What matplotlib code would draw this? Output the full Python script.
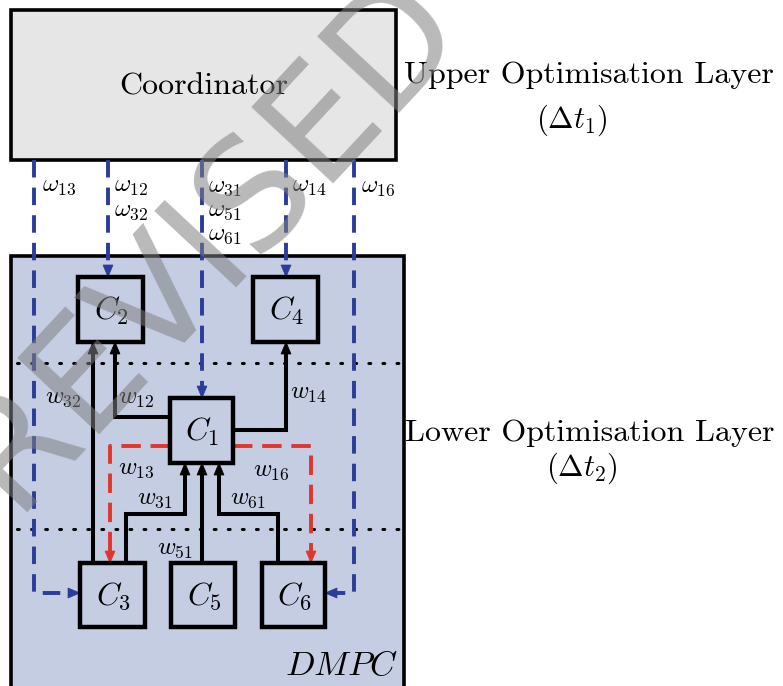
import matplotlib
matplotlib.use("Agg")
import matplotlib.pyplot as plt
from matplotlib.patches import Rectangle, Polygon
import numpy as np

plt.rcParams['mathtext.fontset'] = 'cm'

# ---- diagram content (pixel layout of the reference) ----
coord_box = (11, 10, 396, 160)           # x0, y0, x1, y1
dmpc_box = (11, 256, 404, 700)
# controller boxes: name -> (x0, y0, x1, y1)
ctrl_names = ['C_1', 'C_2', 'C_3', 'C_4', 'C_5', 'C_6']
ctrl_boxes = [(170, 398, 233, 463), (78, 277, 143, 342), (80, 563, 145, 627),
              (253, 277, 318, 342), (171, 563, 235, 627), (262, 563, 325, 627)]

# coordinator -> controller signals (blue dashed)
blue_paths = [
    [(34, 160), (34, 593), (80, 593)],
    [(108, 160), (108, 277)],
    [(202, 160), (202, 398)],
    [(286, 160), (286, 277)],
    [(354, 160), (354, 593), (325, 593)],
]
blue_labels = [(r'$\omega_{13}$', 42, 185), (r'$\omega_{12}$', 114, 186),
               (r'$\omega_{32}$', 114, 210), (r'$\omega_{31}$', 208, 186),
               (r'$\omega_{51}$', 208, 210), (r'$\omega_{61}$', 208, 234),
               (r'$\omega_{14}$', 292, 186), (r'$\omega_{16}$', 361, 186)]

# controller -> controller signals (black solid)
black_paths = [
    [(93, 563), (93, 342)],
    [(170, 417), (115, 417), (115, 342)],
    [(233, 430), (286, 430), (286, 342)],
    [(126, 563), (126, 514), (185, 514), (185, 463)],
    [(202, 563), (202, 463)],
    [(278, 563), (278, 514), (219, 514), (219, 463)],
]
# red dashed signals
red_paths = [
    [(170, 446), (110, 446), (110, 563)],
    [(233, 446), (311, 446), (311, 563)],
]
w_labels = [(r'$w_{32}$', 45, 397), (r'$w_{12}$', 118, 398), (r'$w_{14}$', 290, 393),
            (r'$w_{13}$', 118, 468), (r'$w_{16}$', 253, 470), (r'$w_{31}$', 137, 498),
            (r'$w_{61}$', 230, 498), (r'$w_{51}$', 157, 548)]
dotted_y = [363, 529]

BLUE = '#2b3c9a'
RED = '#e2352d'

fig = plt.figure(figsize=(7.83, 6.86), dpi=100)
ax = fig.add_axes([0, 0, 1, 1])
ax.set_xlim(0, 783)
ax.set_ylim(686, 0)
ax.axis('off')


def rect(b, fc, lw, z=1):
    ax.add_patch(Rectangle((b[0], b[1]), b[2] - b[0], b[3] - b[1],
                           facecolor=fc, edgecolor='black', lw=lw, zorder=z))


def head(p_from, p_to, color, L=12, W=5, z=5):
    d = np.array(p_to, float) - np.array(p_from, float)
    d /= np.linalg.norm(d)
    n = np.array([-d[1], d[0]])
    tip = np.array(p_to, float)
    base = tip - d * L
    ax.add_patch(Polygon([tip, base + n * W, base - n * W], closed=True,
                         facecolor=color, edgecolor=color, lw=0.5, zorder=z))
    return base


def path(pts, color, ls, lw, dashes=None, z=4):
    base = head(pts[-2], pts[-1], color, z=z + 1)
    xs = [p[0] for p in pts[:-1]] + [base[0]]
    ys = [p[1] for p in pts[:-1]] + [base[1]]
    line, = ax.plot(xs, ys, color=color, lw=lw, ls=ls, zorder=z,
                    solid_joinstyle='miter', solid_capstyle='butt')
    if dashes:
        line.set_dashes(dashes)


rect(coord_box, '#e6e6e6', 2.6, z=1)
rect(dmpc_box, '#c5cde3', 2.6, z=1)

ax.text((coord_box[0] + coord_box[2]) / 2, 87, 'Coordinator', fontfamily='cmr10',
        fontsize=23, ha='center', va='center', zorder=3)
ax.text(589, 75, 'Upper Optimisation Layer', fontfamily='cmr10', fontsize=23,
        ha='center', va='center', zorder=3)
ax.text(572, 120, r'$(\Delta t_1)$', fontsize=22, ha='center', va='center', zorder=3)
ax.text(590, 433, 'Lower Optimisation Layer', fontfamily='cmr10', fontsize=23,
        ha='center', va='center', zorder=3)
ax.text(582, 468, r'$(\Delta t_2)$', fontsize=22, ha='center', va='center', zorder=3)
ax.text(398, 665, r'$DMPC$', fontsize=25, ha='right', va='center', zorder=3)

for y in dotted_y:
    ax.plot([17, 400], [y, y], color='black', lw=2.2, ls=(0, (0.6, 4.0)),
            dash_capstyle='round', zorder=2)

for name, b in zip(ctrl_names, ctrl_boxes):
    rect(b, '#c5cde3', 3.2, z=6)
    ax.text((b[0] + b[2]) / 2 + 1, (b[1] + b[3]) / 2 + 1, '$%s$' % name,
            fontsize=23, ha='center', va='center', zorder=7)

for p in blue_paths:
    path(p, BLUE, '--', 2.8, dashes=(4.5, 2.6), z=4)
for p in red_paths:
    path(p, RED, '--', 2.8, dashes=(5, 2.5), z=4)
for p in black_paths:
    path(p, 'black', '-', 2.9, z=4)

for t, x, y in blue_labels:
    ax.text(x, y, t, fontsize=18, ha='left', va='center', zorder=3)
for t, x, y in w_labels:
    ax.text(x, y, t, fontsize=18, ha='left', va='center', zorder=3)

# watermark
ax.text(208, 240, 'REVISED', fontsize=110, rotation=47, color='#808080', alpha=0.55,
        ha='center', va='center', fontfamily='DejaVu Sans', zorder=10)

fig.savefig('out.png', dpi=100)
